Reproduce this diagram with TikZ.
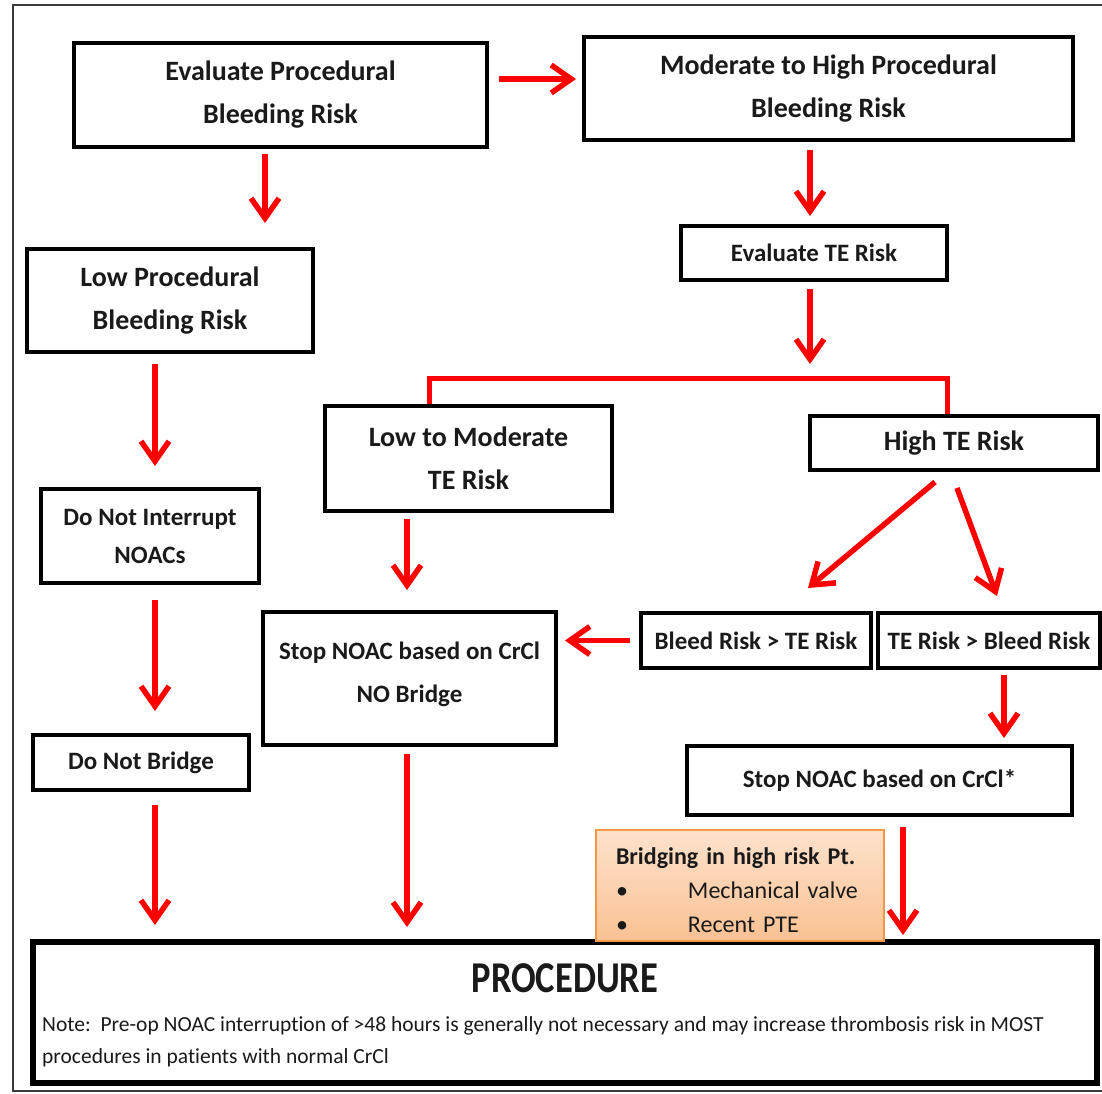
\documentclass[tikz,border=0pt]{standalone}
\usepackage{fontspec}
\usepackage{graphicx}
\setmainfont[Ligatures=NoCommon]{Carlito}
\usetikzlibrary{arrows.meta,calc}
\definecolor{flowred}{HTML}{FF0000}
\definecolor{inkblack}{HTML}{1A1A1A}
\definecolor{framegray}{HTML}{3A3A3A}
\definecolor{peachtop}{HTML}{FDE2CC}
\definecolor{peachbottom}{HTML}{FAC193}
\definecolor{peachedge}{HTML}{F79646}
\begin{document}
\begin{tikzpicture}[x=1pt,y=-1pt,
  box/.style={draw=black, line width=4pt, fill=white, inner sep=0pt, align=center,
    text=inkblack, font=\bfseries\fontsize{28}{43}\selectfont},
  smallbox/.style={box, font=\bfseries\fontsize{25}{38}\selectfont},
  flow/.style={draw=flowred, line width=5.5pt, -{Straight Barb[length=20pt,width=28pt]}},
  branch/.style={draw=flowred, line width=5pt, line join=miter},
]
\useasboundingbox (0,0) rectangle (1102,1093);

% page frame (open on the right)
\draw[framegray, line width=2pt] (1102,5) -- (13,5) -- (13,1091) -- (1102,1091);

% decision boxes
\node[box, minimum width=413, minimum height=104] (ev) at (280.5,95) {Evaluate Procedural\\Bleeding Risk};
\node[box, minimum width=489, minimum height=103] (mh) at (828.5,88.5) {Moderate to High Procedural\\Bleeding Risk};
\node[box, minimum width=286, minimum height=103] (lp) at (170,300.5) {Low Procedural\\Bleeding Risk};
\node[smallbox, minimum width=266, minimum height=54] (et) at (814,253) {Evaluate TE Risk};
\node[box, minimum width=287, minimum height=105] (lm) at (468.5,458.5) {Low to Moderate\\TE Risk};
\node[box, minimum width=288, minimum height=54] (hi) at (954,443) {High TE Risk};
\node[smallbox, minimum width=218, minimum height=94] (dni) at (150,536) {Do Not Interrupt\\NOACs};
\node[smallbox, minimum width=216, minimum height=55] (dnb) at (141,762.5) {Do Not Bridge};
\node[smallbox, font=\bfseries\fontsize{25}{43}\selectfont, minimum width=293, minimum height=133] (snb) at (409.5,678.5) {Stop NOAC based on CrCl\\NO Bridge\\[-31pt]};
\node[smallbox, minimum width=230, minimum height=55] (bt) at (756,640.5) {Bleed Risk > TE Risk};
\node[smallbox, minimum width=222, minimum height=55] (tb) at (989,640.5) {TE Risk > Bleed Risk};
\node[smallbox, minimum width=385, minimum height=69] (sc) at (879.5,780.5) {Stop NOAC based on CrCl*};

% final step
\node[draw=black, line width=6pt, fill=white, minimum width=1064, minimum height=141, inner sep=0pt] (proc) at (565,1012.5) {};
\node[text=inkblack, font=\bfseries\fontsize{44}{44}\selectfont, inner sep=0pt] (proctitle) at ([yshift=-39pt]proc.north) {\scalebox{0.83}[1]{PROCEDURE}};
\node[text=inkblack, anchor=west, align=left, inner sep=0pt, font=\fontsize{21.5}{32}\selectfont] (note) at ([xshift=12pt,yshift=-29pt]proc.west)
  {Note:~~Pre-op NOAC interruption of >48 hours is generally not necessary and may increase thrombosis risk in MOST\\procedures in patients with normal CrCl};

% connectors
\draw[flow, shorten <=10pt, shorten >=6pt] ([yshift=16pt]ev.east) -- ([yshift=16pt]ev.east -| mh.west);
\draw[flow, shorten <=5pt, shorten >=24pt] ([xshift=-15.5pt]ev.south) -- ([xshift=-15.5pt]ev.south |- lp.north);
\draw[flow, shorten <=8pt, shorten >=8pt] ([xshift=-4pt]et.north |- mh.south) -- ([xshift=-4pt]et.north);
\coordinate (fork) at ([xshift=-4pt,yshift=-96pt]et.south);
\draw[flow, shorten <=7pt, shorten >=14pt] ([xshift=-4pt]et.south) -- (fork);
\draw[branch] ([xshift=-39.5pt]lm.north) |- (fork) -| ([xshift=-7pt]hi.north);
\draw[flow, shorten <=10pt, shorten >=21pt] ([xshift=5pt]dni.north |- lp.south) -- ([xshift=5pt]dni.north);
\draw[flow, shorten <=15pt, shorten >=22pt] ([xshift=14pt]dnb.north |- dni.south) -- ([xshift=14pt]dnb.north);
\draw[flow, shorten <=13pt, shorten >=14pt] ([xshift=14pt]dnb.south) -- ([xshift=14pt]dnb.south |- proc.north);
\draw[flow, shorten <=6pt, shorten >=20pt] ([xshift=-2.5pt]snb.north |- lm.south) -- ([xshift=-2.5pt]snb.north);
\draw[flow, shorten <=7pt, shorten >=12pt] ([xshift=-2.5pt]snb.south) -- ([xshift=-2.5pt]snb.south |- proc.north);
\draw[flow] ([xshift=-19pt,yshift=-10pt]hi.south) -- ([xshift=52pt,yshift=23pt]bt.north);
\draw[flow] ([xshift=3pt,yshift=-16pt]hi.south) -- ([xshift=8pt,yshift=15pt]tb.north);
\draw[flow, shorten <=9pt, shorten >=7pt] (bt.west) -- (bt.west -| snb.east);
\draw[flow, shorten <=5pt, shorten >=6pt] ([xshift=15pt]tb.south) -- ([xshift=15pt]tb.south |- sc.north);
\draw[flow, shorten <=10pt, shorten >=4pt] ([xshift=23.5pt]sc.south) -- ([xshift=23.5pt]sc.south |- proc.north);

% bridging note
\node[draw=peachedge, line width=1.5pt, top color=peachtop, bottom color=peachbottom,
  minimum width=288, minimum height=111, inner xsep=20pt, inner ysep=0pt, text width=248pt,
  align=left, text=inkblack, font=\fontsize{24}{34}\selectfont] (bridge) at (740,885.5)
  {\rule{0pt}{26pt}\textbf{Bridging in high risk Pt.}\\
   \makebox[72pt][l]{\textbullet}Mechanical valve\\
   \makebox[72pt][l]{\textbullet}Recent PTE};
\end{tikzpicture}
\end{document}
